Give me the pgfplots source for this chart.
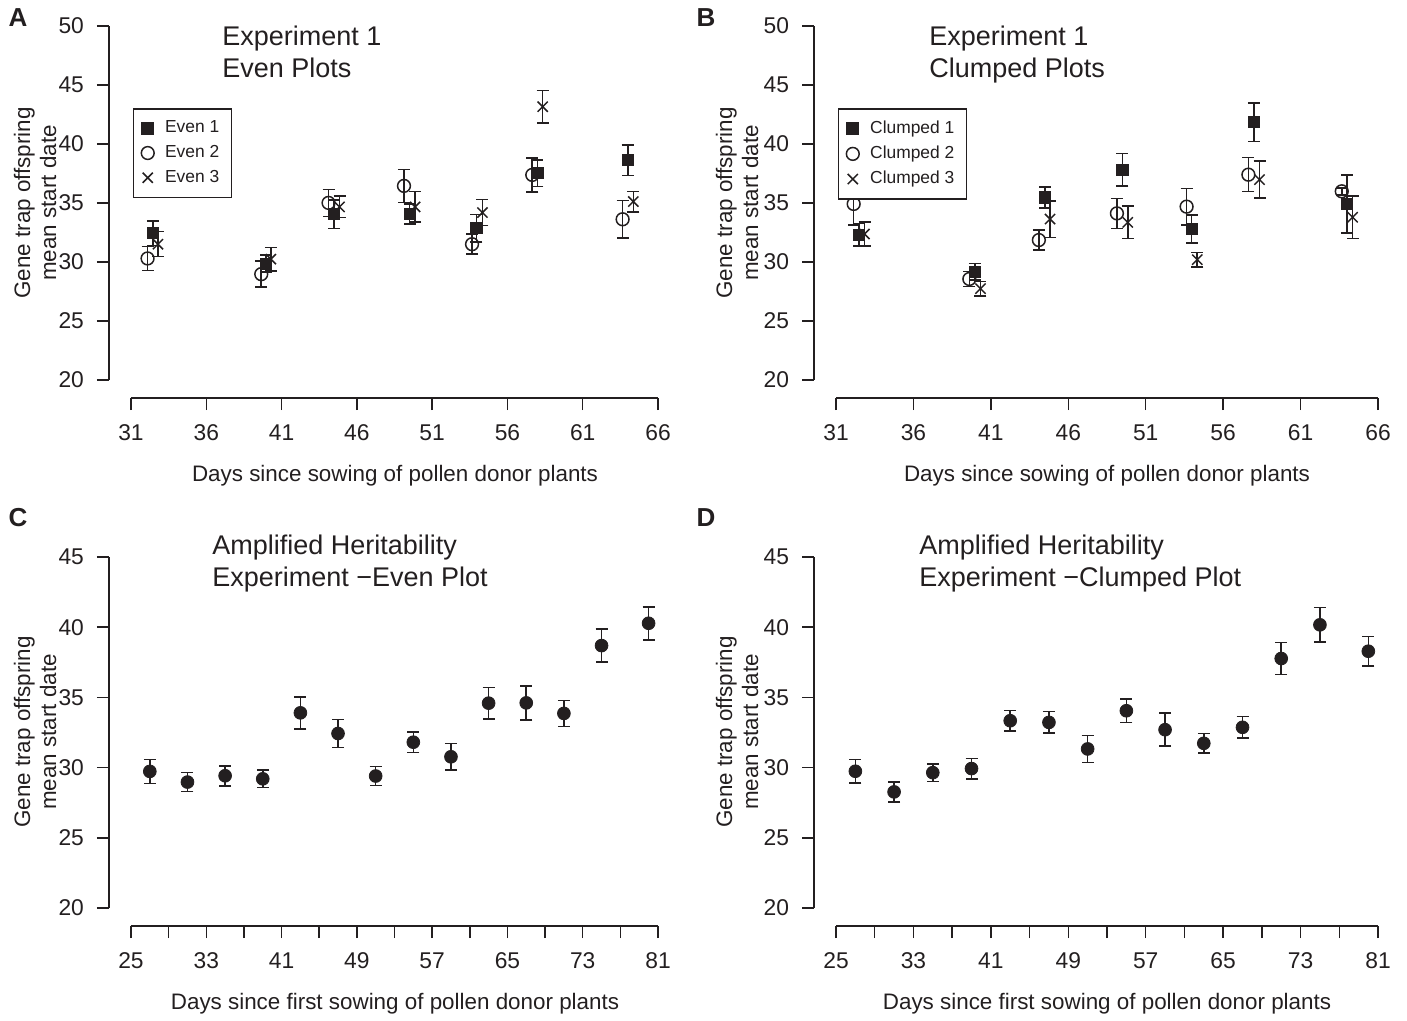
\documentclass[border=0pt]{standalone}
\usepackage{fontspec}
\setmainfont{Liberation Sans}
\usepackage{pgfplots}
\pgfplotsset{compat=1.18}
\definecolor{ink}{HTML}{231F20}

\pgfplotsset{
  rplot/.style={
    scale only axis, enlargelimits=false, clip=false,
    axis x line*=bottom, axis y line*=left,
    axis line style={-, line width=0.75pt, ink},
    x axis line style={yshift=-9pt},
    y axis line style={xshift=-11pt},
    tick align=outside, major tick length=6pt, minor tick num=0,
    xtick style={yshift=-9pt, line width=0.75pt, ink},
    ytick style={xshift=-11pt, line width=0.75pt, ink},
    xticklabel style={yshift=-13pt},
    yticklabel style={xshift=-14pt},
    tick label style={font=\fontsize{11.4}{13}\selectfont, text=ink},
    /pgf/number format/assume math mode=true,
    legend cell align=left,
    legend style={draw=ink, line width=0.75pt, fill=white,
      font=\fontsize{8.7}{10}\selectfont, text=ink,
      inner xsep=4pt, inner ysep=4pt, row sep=0.8pt,
      /tikz/every odd column/.append style={column sep=3.5pt},
      at={(0.003,0.768)}, anchor=north west},
  },
  ebar/.style={
    error bars/.cd, y dir=both, y explicit,
    error bar style={line width=0.8pt, ink},
    error mark options={rotate=90, ink, line width=0.8pt, mark size=3pt}},
  sq/.style={only marks, ink, mark=square*, mark size=2.8pt, mark options={fill=ink, draw=ink}, ebar},
  ci/.style={only marks, ink, mark=o, mark size=3.2pt, mark options={draw=ink, line width=0.75pt}, ebar},
  cr/.style={only marks, ink, mark=x, mark size=3.6pt, mark options={draw=ink, line width=0.75pt}, ebar},
  dot/.style={only marks, ink, mark=*, mark size=3.2pt, mark options={fill=ink, draw=ink}, ebar},
}

\begin{document}
\begin{tikzpicture}
\path[use as bounding box] (0pt,0pt) rectangle (703.5pt,-510.5pt);

% ---------------- A ----------------
\begin{axis}[rplot, at={(65.5pt,-190pt)}, anchor=south west,
  width=263.5pt, height=177pt,
  xmin=31, xmax=66, ymin=20, ymax=50,
  xtick={31,36,...,66}, ytick={20,25,...,50}]
\addplot[sq] coordinates {
  (32.45,32.44) +- (0,1.05) (39.97,29.87) +- (0,0.70) (44.49,34.05) +- (0,1.20)
  (49.50,34.05) +- (0,0.85) (53.94,32.86) +- (0,1.15) (57.99,37.52) +- (0,1.13)
  (63.99,38.62) +- (0,1.30)};
\addlegendentry{Even 1}
\addplot[ci] coordinates {
  (32.10,30.30) +- (0,1.03) (39.65,28.97) +- (0,1.10) (44.12,35.01) +- (0,1.15)
  (49.13,36.45) +- (0,1.40) (53.65,31.51) +- (0,0.85) (57.65,37.38) +- (0,1.44)
  (63.65,33.62) +- (0,1.60)};
\addlegendentry{Even 2}
\addplot[cr] coordinates {
  (32.79,31.51) +- (0,1.06) (40.29,30.24) +- (0,1.00) (44.85,34.67) +- (0,0.90)
  (49.87,34.67) +- (0,1.30) (54.34,34.19) +- (0,1.10) (58.34,43.16) +- (0,1.38)
  (64.36,35.12) +- (0,0.87)};
\addlegendentry{Even 3}
\end{axis}

% ---------------- B ----------------
\begin{axis}[rplot, at={(418pt,-190pt)}, anchor=south west,
  width=271pt, height=177pt,
  xmin=31, xmax=66, ymin=20, ymax=50,
  xtick={31,36,...,66}, ytick={20,25,...,50}]
\addplot[sq] coordinates {
  (32.49,32.32) +- (0,0.95) (39.96,29.18) +- (0,0.70) (44.50,35.48) +- (0,0.90)
  (49.49,37.80) +- (0,1.38) (53.96,32.80) +- (0,1.20) (57.98,41.84) +- (0,1.63)
  (64.01,34.92) +- (0,2.47)};
\addlegendentry{Clumped 1}
\addplot[ci] coordinates {
  (32.14,34.92) +- (0,1.80) (39.61,28.56) +- (0,0.65) (44.10,31.86) +- (0,0.85)
  (49.14,34.12) +- (0,1.27) (53.64,34.69) +- (0,1.55) (57.63,37.40) +- (0,1.44)
  (63.66,35.99) +- (0,0.30)};
\addlegendentry{Clumped 2}
\addplot[cr] coordinates {
  (32.84,32.37) +- (0,1.00) (40.33,27.74) +- (0,0.60) (44.82,33.64) +- (0,1.55)
  (49.84,33.36) +- (0,1.38) (54.33,30.20) +- (0,0.62) (58.35,36.98) +- (0,1.58)
  (64.36,33.79) +- (0,1.80)};
\addlegendentry{Clumped 3}
\end{axis}

% ---------------- C ----------------
\begin{axis}[rplot, at={(65.5pt,-454pt)}, anchor=south west,
  width=263.5pt, height=175.5pt,
  xmin=25, xmax=81, ymin=20, ymax=45,
  xtick={25,29,...,81}, xticklabels={25,,33,,41,,49,,57,,65,,73,,81},
  ytick={20,25,...,45}]
\addplot[dot] coordinates {
  (27,29.73) +- (0,0.85) (31,28.97) +- (0,0.67) (35,29.42) +- (0,0.71)
  (39,29.20) +- (0,0.63) (43,33.90) +- (0,1.13) (47,32.43) +- (0,1.00)
  (51,29.40) +- (0,0.68) (55,31.81) +- (0,0.72) (59,30.77) +- (0,0.95)
  (63,34.59) +- (0,1.12) (67,34.61) +- (0,1.22) (71,33.86) +- (0,0.93)
  (75,38.69) +- (0,1.17) (80,40.28) +- (0,1.18)};
\end{axis}

% ---------------- D ----------------
\begin{axis}[rplot, at={(418pt,-454pt)}, anchor=south west,
  width=271pt, height=175.5pt,
  xmin=25, xmax=81, ymin=20, ymax=45,
  xtick={25,29,...,81}, xticklabels={25,,33,,41,,49,,57,,65,,73,,81},
  ytick={20,25,...,45}]
\addplot[dot] coordinates {
  (27,29.74) +- (0,0.85) (31,28.27) +- (0,0.70) (35,29.64) +- (0,0.63)
  (39,29.93) +- (0,0.73) (43,33.34) +- (0,0.72) (47,33.22) +- (0,0.77)
  (51,31.33) +- (0,0.96) (55,34.05) +- (0,0.83) (59,32.70) +- (0,1.18)
  (63,31.73) +- (0,0.71) (67,32.87) +- (0,0.78) (71,37.77) +- (0,1.15)
  (75,40.17) +- (0,1.23) (80,38.29) +- (0,1.05)};
\end{axis}

% ---------------- texts ----------------
\begin{scope}[x=0.5pt, y=-0.5pt, every node/.style={text=ink, inner sep=0pt}]
\foreach \l/\x/\y in {A/18/18, B/706/18, C/18/518, D/706/518}
  \node[font=\fontsize{13}{15}\selectfont\bfseries] at (\x,\y) {\l};

\begin{scope}[every node/.append style={anchor=base west, font=\fontsize{13.5}{16}\selectfont}]
\node at (222,46) {Experiment 1};
\node at (222,78) {Even Plots};
\node at (929,46) {Experiment 1};
\node at (929,78) {Clumped Plots};
\node at (212,554) {Amplified Heritability};
\node at (212,586) {Experiment −Even Plot};
\node at (919,554) {Amplified Heritability};
\node at (919,586) {Experiment −Clumped Plot};
\end{scope}

\begin{scope}[every node/.append style={font=\fontsize{11.2}{13}\selectfont}]
\node at (395,476) {Days since sowing of pollen donor plants};
\node at (1107,476) {Days since sowing of pollen donor plants};
\node at (395,1004) {Days since first sowing of pollen donor plants};
\node at (1107,1004) {Days since first sowing of pollen donor plants};
\foreach \x/\y in {35/203, 737/203, 35/732, 737/732}
  \node[rotate=90, align=center] at (\x,\y) {Gene trap offspring\\mean start date};
\end{scope}
\end{scope}
\end{tikzpicture}
\end{document}
